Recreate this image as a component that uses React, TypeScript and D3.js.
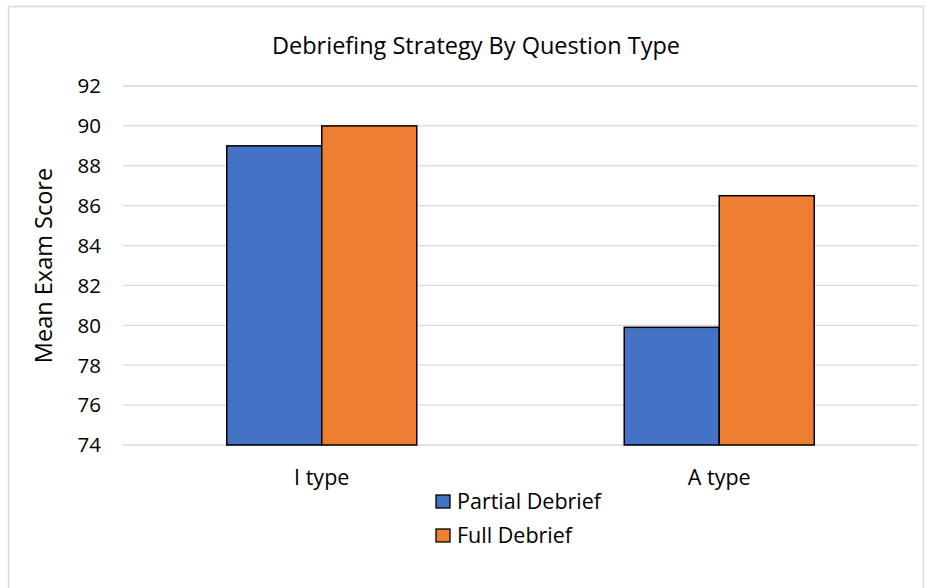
import * as d3 from "d3";
import React from "react";

const categories = ["I type", "A type"];
const seriesNames = ["Partial Debrief", "Full Debrief"];
const partialValues = [89, 79.9];
const fullValues = [90, 86.5];
const yTicks = [74, 76, 78, 80, 82, 84, 86, 88, 90, 92];
const colors = ["#4472C4", "#ED7D31"];

export default function App() {
  const width = 930;
  const height = 588;
  const marginLeft = 123;
  const marginRight = 12;
  const marginTop = 86;
  const plotBottom = 445;
  const font = "'Open Sans', Lato, sans-serif";

  const x = d3
    .scaleBand<string>()
    .domain(categories)
    .range([marginLeft, width - marginRight])
    .paddingInner(0.522)
    .paddingOuter(0.261);

  const inner = d3
    .scaleBand<string>()
    .domain(seriesNames)
    .range([0, x.bandwidth()]);

  const y = d3.scaleLinear().domain([74, 92]).range([plotBottom, marginTop]);

  const series = [partialValues, fullValues];

  return (
    <svg
      width={width}
      height={height}
      style={{ position: "absolute", left: 0, top: 0, background: "#fff" }}
      fontFamily={font}
    >
      <rect x={8.5} y={6.5} width={915} height={600} fill="#fff" stroke="#d9d9d9" strokeWidth={1.5} />
      <text x={476} y={54} textAnchor="middle" fontSize={23.5} fill="#000">
        Debriefing Strategy By Question Type
      </text>

      {/* gridlines */}
      <g stroke="#d9d9d9" strokeWidth={1.3}>
        {yTicks.map((t) => (
          <line key={t} x1={marginLeft} x2={width - marginRight} y1={y(t)} y2={y(t)} />
        ))}
      </g>
      <g fontSize={20.5} fill="#000" textAnchor="end">
        {yTicks.map((t) => (
          <text key={t} x={101} y={y(t)} dy="0.36em">
            {t}
          </text>
        ))}
      </g>

      <text
        transform={`translate(52,${(marginTop + plotBottom) / 2}) rotate(-90)`}
        textAnchor="middle"
        fontSize={23.5}
        fill="#000"
      >
        Mean Exam Score
      </text>

      {/* bars */}
      {series.map((vals, si) => (
        <g key={si} fill={colors[si]} stroke="#000" strokeWidth={1.5}>
          {vals.map((v, ci) => (
            <rect
              key={ci}
              x={(x(categories[ci]) ?? 0) + (inner(seriesNames[si]) ?? 0)}
              y={y(v)}
              width={inner.bandwidth()}
              height={y(74) - y(v)}
            />
          ))}
        </g>
      ))}

      <g fontSize={21.5} fill="#000" textAnchor="middle">
        {categories.map((c) => (
          <text key={c} x={(x(c) ?? 0) + x.bandwidth() / 2} y={485}>
            {c}
          </text>
        ))}
      </g>

      {/* legend */}
      {seriesNames.map((s, i) => (
        <g key={s} transform={`translate(436,${495 + i * 34})`}>
          <rect x={0} y={0} width={14} height={13} fill={colors[i]} stroke="#000" strokeWidth={1.3} />
          <text x={21} y={14} fontSize={21.5} fill="#000">
            {s}
          </text>
        </g>
      ))}
    </svg>
  );
}
